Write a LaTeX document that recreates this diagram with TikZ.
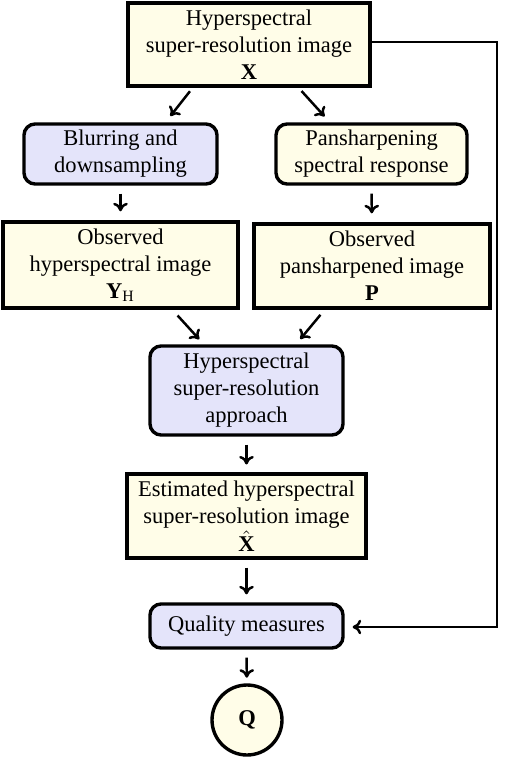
\documentclass[tikz,border=0pt]{standalone}
\usepackage{fontspec}
\setmainfont{Liberation Serif}
\usetikzlibrary{arrows.meta}
\definecolor{creamfill}{RGB}{255,253,232}
\definecolor{lavfill}{RGB}{228,228,250}
\begin{document}
\begin{tikzpicture}[x=0.4444pt,y=-0.4444pt,
  box/.style={draw, line width=1.5pt, align=center, inner sep=0pt, font=\fontsize{10}{12}\selectfont},
  datbox/.style={box, fill=creamfill},
  rbox/.style={box, rounded corners=5pt},
  arr/.style={-{To[length=3.8pt,width=6.5pt]}, line width=1.1pt}]
\useasboundingbox (0,0) rectangle (514,758);
\node[datbox, minimum width=107.6pt, minimum height=36.9pt] (top) at (249,44.5)
  {Hyperspectral\\super-resolution image\\$\mathbf{X}$};
\node[rbox, fill=lavfill, minimum width=85.8pt, minimum height=26.7pt] (blur) at (120.5,154)
  {Blurring and\\downsampling};
\node[rbox, fill=creamfill, minimum width=84.9pt, minimum height=26.7pt] (pan) at (371.5,154)
  {Pansharpening\\spectral response};
\node[datbox, minimum width=104.4pt, minimum height=38.2pt] (obsH) at (120.5,265)
  {Observed\\hyperspectral image\\$\mathbf{Y}_{\mathrm{H}}$};
\node[datbox, minimum width=104.9pt, minimum height=37.3pt] (obsP) at (372,266)
  {Observed\\pansharpened image\\$\mathbf{P}$};
\node[rbox, fill=lavfill, minimum width=85.8pt, minimum height=39.6pt] (appr) at (246.5,390.5)
  {Hyperspectral\\super-resolution\\approach};
\node[datbox, minimum width=106.2pt, minimum height=37.3pt] (est) at (246.5,516)
  {Estimated hyperspectral\\super-resolution image\\[0.5pt]$\hat{\mathbf{X}}$};
\node[rbox, fill=lavfill, minimum width=85.8pt, minimum height=19.6pt] (qual) at (246.5,626)
  {Quality measures};
\node[box, circle, fill=creamfill, minimum size=31.1pt] (Q) at (247,720) {$\mathbf{Q}$};
\coordinate (corner1) at (497,42);
\coordinate (corner2) at (497,627);
\draw[arr, shorten <=2pt, shorten >=3.5pt] ([xshift=-25pt]top.south) -- ([xshift=20pt]blur.north);
\draw[arr, shorten <=2pt, shorten >=3.5pt] ([xshift=22pt]top.south) -- ([xshift=-18.5pt]pan.north);
\draw[arr, shorten <=3.5pt, shorten >=4pt] (blur) -- (obsH);
\draw[arr, shorten <=3.5pt, shorten >=4pt] (pan) -- (obsP);
\draw[arr, shorten <=3.5pt, shorten >=3pt] ([xshift=23pt]obsH.south) -- ([xshift=-19pt]appr.north);
\draw[arr, shorten <=3pt, shorten >=3pt] ([xshift=-21pt]obsP.south) -- ([xshift=22pt]appr.north);
\draw[arr, shorten <=3.5pt, shorten >=3.5pt] (appr) -- (est);
\draw[arr, shorten <=3.5pt, shorten >=3.5pt] (est) -- (qual);
\draw[arr, shorten <=3.5pt, shorten >=2.5pt] (qual) -- (Q);
\draw[arr, shorten >=3.5pt] (top.east |- corner1) -- (corner1) -- (corner2) -- (qual.east |- corner2);
\end{tikzpicture}
\end{document}
